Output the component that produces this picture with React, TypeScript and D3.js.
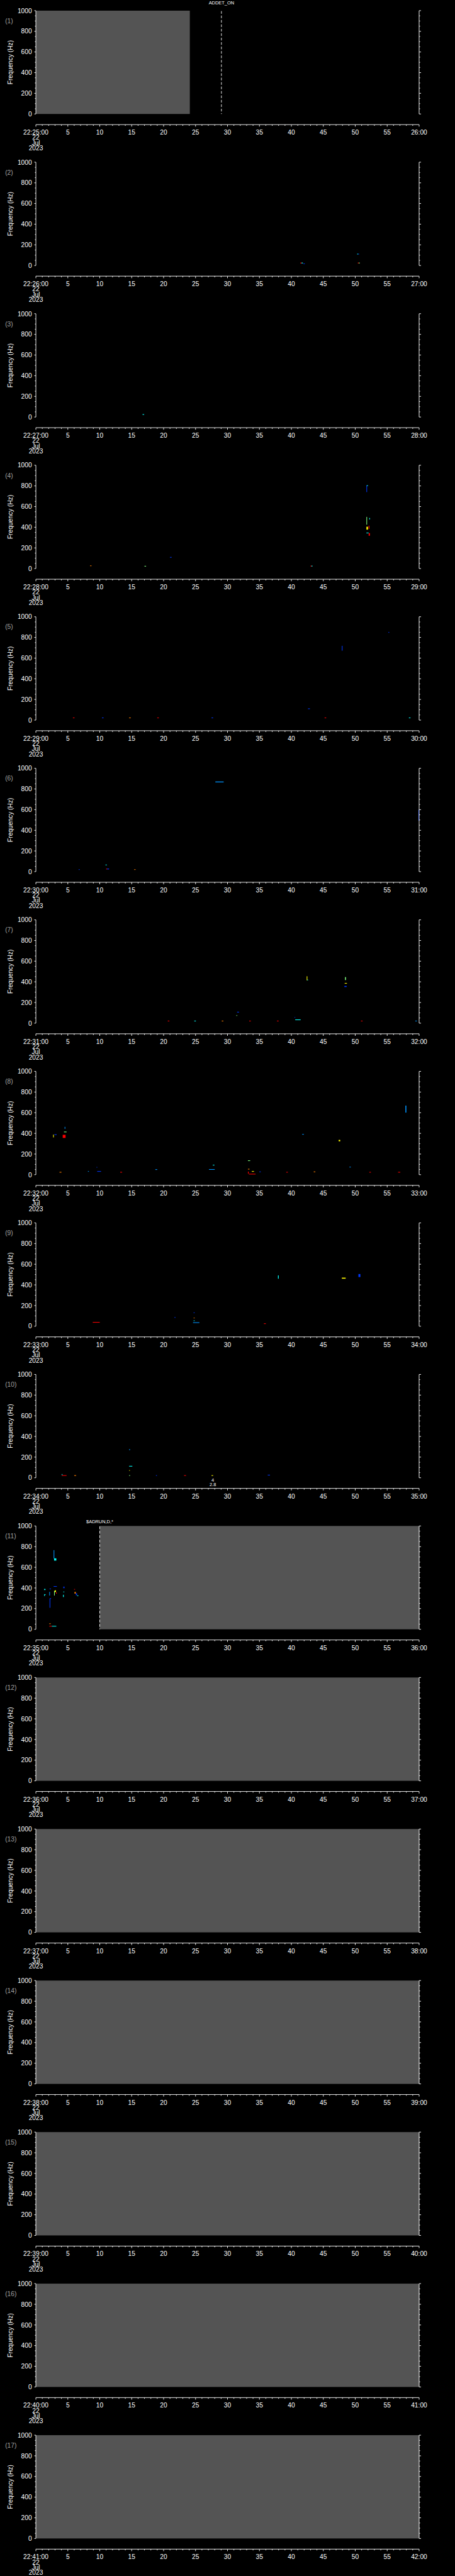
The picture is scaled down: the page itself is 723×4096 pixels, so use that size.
import React from 'react';
import * as d3 from 'd3';

// one panel per minute, 22:25 .. 22:42 UTC, 22 Jul 2023
const HOUR = 22;
const FIRST_MINUTE = 25;
const PANEL_COUNT = 17;
const DATE_LINES = ['22', 'Jul', '2023'];
const SECOND_LABELS = ['5', '10', '15', '20', '25', '30', '35', '40', '45', '50', '55'];
const FREQ_MAJOR = [0, 200, 400, 600, 800, 1000];

// jet colour levels
const B = 0.18, LB = 0.27, C = 0.38, G = 0.5, Y = 0.63, O = 0.75, R = 0.88;

// [panel, from s, to s]  - no data (grey)
const NO_DATA = [
  [0, 0, 24.1],
  [10, 10, 60],
  [11, 0, 60],
  [12, 0, 60],
  [13, 0, 60],
  [14, 0, 60],
  [15, 0, 60],
  [16, 0, 60],
];

// [panel, second, label]
const EVENTS: [number, number, string][] = [
  [0, 29.05, 'ADDET_ON'],
  [10, 10.0, '$ADRUN,D,*'],
];

// [panel, second, lines]
const NOTES: [number, number, string[]][] = [[9, 27.7, ['4', '2.8']]];

// detections: [second, Hz, duration s, bandwidth Hz, level]
const det01: number[][] = [];
const det02 = [
  [41.4, 20, 0.2, 8, R], [41.6, 20, 0.2, 8, C], [41.9, 14, 0.2, 6, B],
  [50.3, 108, 0.15, 6, C], [50.45, 108, 0.15, 6, B], [50.4, 20, 0.15, 8, R], [50.55, 20, 0.15, 8, G],
];
const det03 = [[16.7, 22, 0.25, 6, C]];
const det04 = [
  [8.5, 24, 0.2, 6, O], [17.0, 20, 0.25, 6, G], [21.0, 106, 0.25, 6, B],
  [43.0, 20, 0.15, 8, R], [43.15, 20, 0.15, 8, C],
  [51.75, 740, 0.08, 65, B], [51.8, 800, 0.2, 6, C],
  [51.75, 425, 0.08, 75, G], [52.2, 475, 0.08, 15, C],
  [51.75, 377, 0.25, 28, Y], [52.1, 385, 0.12, 30, R],
  [51.75, 342, 0.35, 6, C], [52.1, 318, 0.2, 25, R],
];
const det05 = [
  [55.2, 845, 0.12, 8, B], [47.9, 672, 0.1, 47, B], [42.6, 108, 0.3, 5, B],
  [5.8, 20, 0.25, 5, R], [10.35, 20, 0.25, 5, B], [14.6, 20, 0.25, 5, O], [19.0, 20, 0.25, 5, R],
  [27.5, 20, 0.25, 5, B], [45.2, 20, 0.25, 5, R], [58.4, 20, 0.25, 5, C],
];
const det06 = [
  [28.1, 864, 1.3, 8, LB], [6.7, 18, 0.15, 5, B], [10.9, 63, 0.2, 5, C],
  [11.0, 22, 0.15, 8, R], [11.15, 22, 0.3, 8, B], [15.4, 18, 0.2, 5, O],
  [59.9, 494, 0.1, 105, B],
];
const det07 = [
  [42.4, 414, 0.1, 40, Y], [42.5, 414, 0.1, 8, C],
  [48.4, 417, 0.15, 29, G], [48.35, 383, 0.35, 6, Y], [48.3, 350, 0.35, 10, B],
  [31.5, 105, 0.3, 5, B], [31.4, 70, 0.1, 8, G], [40.5, 54, 0.1, 5, B], [40.6, 30, 0.85, 6, C],
  [20.65, 19, 0.25, 5, R], [24.8, 19, 0.25, 5, C], [29.1, 19, 0.25, 5, O], [33.4, 19, 0.25, 5, R],
  [37.75, 19, 0.25, 5, R], [50.9, 19, 0.25, 5, R], [59.4, 19, 0.25, 5, LB],
];
const det08 = [
  [2.7, 361, 0.1, 27, Y], [2.9, 385, 0.35, 6, B],
  [4.5, 444, 0.1, 19, LB], [4.4, 411, 0.4, 6, G], [4.2, 356, 0.45, 30, R],
  [3.7, 21, 0.3, 6, O], [8.15, 29, 0.15, 6, LB], [9.5, 69, 0.1, 6, B], [9.6, 29, 0.6, 6, B],
  [13.2, 21, 0.3, 6, R], [18.7, 48, 0.3, 5, LB], [27.1, 48, 0.9, 6, LB], [27.7, 90, 0.25, 6, C],
  [33.2, 133, 0.35, 6, G], [33.2, 52, 0.25, 5, O], [33.2, 10, 0.12, 20, R], [33.35, 3, 1.05, 6, R],
  [33.8, 29, 0.35, 6, Y], [35.0, 26, 0.2, 5, B], [39.2, 21, 0.25, 6, R],
  [41.7, 388, 0.25, 6, LB], [47.4, 323, 0.25, 14, Y], [43.5, 26, 0.25, 5, O], [49.1, 72, 0.2, 5, LB],
  [52.2, 21, 0.25, 6, R], [56.7, 21, 0.35, 6, R], [57.85, 601, 0.15, 68, LB],
];
const det09 = [
  [37.9, 460, 0.12, 32, C], [47.9, 460, 0.6, 10, Y], [50.5, 476, 0.3, 29, B],
  [8.9, 36, 1.1, 5, R], [21.7, 83, 0.15, 5, B], [24.7, 129, 0.15, 5, B], [24.7, 78, 0.15, 5, O],
  [24.7, 52, 0.15, 5, C], [24.6, 32, 1.0, 6, LB], [35.7, 22, 0.3, 6, R],
];
const det10 = [
  [14.6, 268, 0.15, 8, LB], [14.6, 110, 0.5, 5, C], [14.6, 69, 0.12, 5, Y], [14.6, 19, 0.15, 6, G],
  [4.05, 19, 0.75, 6, R], [4.05, 26, 0.1, 10, C], [6.0, 19, 0.3, 6, O], [18.8, 19, 0.15, 6, B],
  [23.2, 19, 0.3, 6, R], [27.5, 19, 0.25, 6, Y], [36.3, 24, 0.35, 5, B],
];
const det11 = [
  [2.78, 685, 0.08, 81, LB], [2.85, 665, 0.35, 22, C],
  [2.78, 412, 0.5, 6, B],
  [2.85, 327, 0.08, 45, G], [2.95, 360, 0.2, 17, Y], [3.15, 345, 0.12, 12, R],
  [1.3, 380, 0.2, 11, C], [1.3, 322, 0.08, 18, C], [1.4, 334, 0.12, 5, C],
  [2.15, 389, 0.2, 5, B], [2.1, 327, 0.08, 35, LB],
  [4.3, 398, 0.18, 15, B], [4.3, 360, 0.15, 5, C], [4.25, 312, 0.12, 22, C],
  [5.98, 385, 0.15, 5, R], [6.05, 345, 0.2, 17, O], [6.25, 330, 0.2, 18, B], [6.45, 322, 0.2, 6, C],
  [2.15, 208, 0.08, 90, B], [2.2, 296, 0.18, 5, B],
  [2.1, 52, 0.22, 5, O], [2.1, 28, 0.4, 5, R], [2.5, 28, 0.7, 5, C],
];
const DETECTIONS = [det01, det02, det03, det04, det05, det06, det07, det08, det09, det10, det11];

// layout (reference pixels, svg is scaled down by the viewBox)
const W = 1024, H = 5802;
const TOP0 = 24, PITCH = 341.3, PH = 232.7;
const LEFT = 80.7, RIGHT = 943.3;
const FONT = "'Liberation Sans', Arial, sans-serif";
const EVENT_LIFT = [14, 6];

const x = d3.scaleLinear().domain([0, 60]).range([LEFT, RIGHT]);
const jet = d3.scaleLinear<string>()
  .domain([0, 0.125, 0.375, 0.625, 0.875, 1])
  .range(['#00007f', '#0000ff', '#00ffff', '#ffff00', '#ff0000', '#7f0000']);

const pad = (n: number) => String(n).padStart(2, '0');

function Panel({ k }: { k: number }) {
  const top = TOP0 + k * PITCH;
  const bottom = top + PH;
  const y = d3.scaleLinear().domain([0, 1000]).range([bottom, top]);
  const ax = bottom + 24;
  const minute = FIRST_MINUTE + k;
  const secTicks = d3.range(0, 61, 1);
  const freqTicks = d3.range(0, 1001, 50);
  const marks = DETECTIONS[k] || [];

  return (
    <g>
      {NO_DATA.filter(d => d[0] === k).map((d, i) => (
        <rect key={'g' + i} x={x(d[1])} y={top} width={x(d[2]) - x(d[1])} height={PH} fill="#545454" />
      ))}
      {marks.map((m, i) => {
        const x0 = x(m[0]);
        const y0 = y(m[1] + m[3]);
        return (
          <rect key={'m' + i} x={x0} y={y0}
            width={Math.max(x(m[0] + m[2]) - x0, 1.5)}
            height={Math.max(y(m[1]) - y0, 1.5)}
            fill={jet(m[4])} />
        );
      })}

      {/* left + right frequency axes */}
      <g stroke="#fff" strokeWidth={1.3}>
        <line x1={LEFT} x2={LEFT} y1={top} y2={bottom} />
        <line x1={RIGHT} x2={RIGHT} y1={top} y2={bottom} />
        {freqTicks.map(f => {
          const major = f % 200 === 0;
          return (
            <g key={'f' + f}>
              <line x1={LEFT - (major ? 3.6 : 2.2)} x2={LEFT} y1={y(f)} y2={y(f)} />
              <line x1={RIGHT} x2={RIGHT + (major ? 4.3 : 2.4)} y1={y(f)} y2={y(f)} />
            </g>
          );
        })}
      </g>
      {FREQ_MAJOR.map(f => (
        <text key={'fl' + f} x={71.7} y={y(f)} dy="0.36em" textAnchor="end"
          fill="#fff" fontSize={14.5} fontFamily={FONT}>{f}</text>
      ))}
      <text transform={`translate(23.5,${(top + bottom) / 2}) rotate(-90)`} textAnchor="middle"
        dy="0.36em" fill="#fff" fontSize={14.5} fontFamily={FONT}>Frequency (Hz)</text>
      <text x={11.5} y={top + 28} fill="#a0a0a0" fontSize={14.5} fontFamily={FONT}>({k + 1})</text>

      {/* time axis */}
      <g stroke="#fff" strokeWidth={1.3}>
        <line x1={LEFT} x2={RIGHT} y1={ax} y2={ax} />
        {secTicks.map(s => (
          <line key={'s' + s} x1={x(s)} x2={x(s)} y1={ax} y2={ax + (s % 5 === 0 ? 4.5 : 2.7)} />
        ))}
      </g>
      <g fill="#fff" fontSize={14.5} fontFamily={FONT} textAnchor="middle">
        <text x={x(0)} y={ax + 22.8}>{`${HOUR}:${pad(minute)}:00`}</text>
        {DATE_LINES.map((t, i) => (
          <text key={'d' + i} x={x(0)} y={ax + 34.4 + i * 11.7}>{t}</text>
        ))}
        {SECOND_LABELS.map((t, i) => (
          <text key={'t' + i} x={x((i + 1) * 5)} y={ax + 22.8}>{t}</text>
        ))}
        <text x={x(60)} y={ax + 22.8}>{`${pad(minute + 1)}:00`}</text>
      </g>

      {EVENTS.map((e, i) => e[0] === k && (
        <g key={'e' + i}>
          <line x1={x(e[1])} x2={x(e[1])} y1={top + 1} y2={bottom} stroke="#fff" strokeWidth={1.3}
            strokeDasharray="6,4" />
          <text x={x(e[1])} y={top - EVENT_LIFT[i]} textAnchor="middle" fill="#fff"
            fontSize={10.5} fontFamily={FONT}>{e[2]}</text>
        </g>
      ))}
      {NOTES.map((n, i) => n[0] === k && (
        <g key={'n' + i} fill="#fff" fontSize={10.5} fontFamily={FONT} textAnchor="middle">
          {n[2].map((t, j) => (
            <text key={j} x={x(n[1])} y={bottom + 9.5 + j * 9.8}>{t}</text>
          ))}
        </g>
      ))}
    </g>
  );
}

export default function App() {
  return (
    <svg width={723} height={4096} viewBox={`0 0 ${W} ${H}`}
      style={{ position: 'absolute', left: 0, top: 0, background: '#000', display: 'block' }}>
      <rect x={0} y={0} width={W} height={H} fill="#000" />
      {d3.range(PANEL_COUNT).map(k => <Panel key={k} k={k} />)}
    </svg>
  );
}
